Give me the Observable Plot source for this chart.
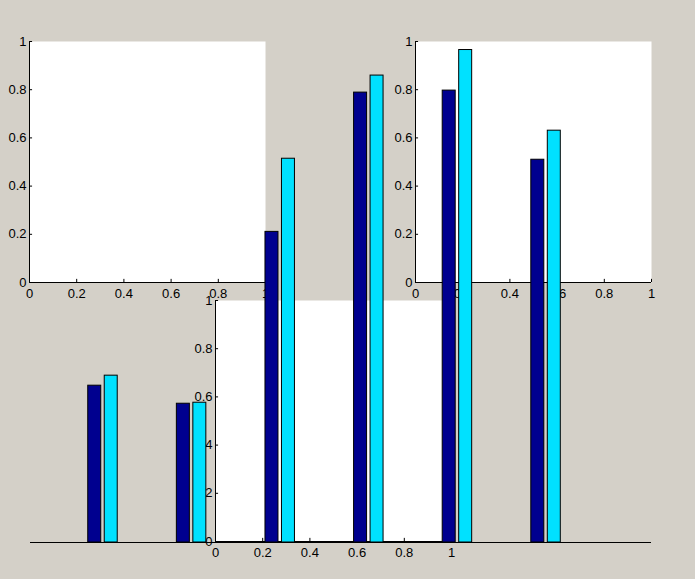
<!DOCTYPE html>
<html lang="en">
<head>
<meta charset="UTF-8">
<title>Grouped bars over empty axes</title>
<style>
  body { margin: 0; background: #d4d0c8; }
  #fig { position: relative; width: 695px; height: 579px; background: #d4d0c8; overflow: hidden; }
  #fig svg { position: absolute; left: 0; top: 0; overflow: visible; }
</style>
</head>
<body>
<div id="fig"></div>
<script src="https://cdn.jsdelivr.net/npm/d3@7"></script>
<script src="https://cdn.jsdelivr.net/npm/@observablehq/plot@0.6"></script>
<script>
  // bar data (bar axes run 0..1)
  const groups = [1, 2, 3, 4, 5, 6];
  const seriesA = [0.313, 0.277, 0.620, 0.898, 0.902, 0.764];
  const seriesB = [0.333, 0.279, 0.766, 0.932, 0.983, 0.822];
  const seriesNames = ["A", "B"];
  const seriesColors = ["#00008f", "#00e1ff"];
  // tick labels shared by the three empty axes
  const ticks = [0, 0.2, 0.4, 0.6, 0.8, 1];

  const W = 695, H = 579;
  const font = "'Liberation Sans', Arial, sans-serif";
  const fig = document.getElementById("fig");

  // one empty white axes box, placed by its margins
  function panel(left, top, right, bottom) {
    return Plot.plot({
      width: W, height: H,
      marginLeft: left, marginTop: top,
      marginRight: W - right, marginBottom: H - bottom,
      style: {background: "transparent", fontFamily: font, fontSize: "13px", color: "black", overflow: "visible"},
      x: {domain: [0, 1]},
      y: {domain: [0, 1]},
      marks: [
        Plot.frame({fill: "white", stroke: null}),
        Plot.axisX({ticks, tickFormat: d => String(d), tickSize: 0, tickPadding: 6, fill: "black"}),
        Plot.axisY({ticks, tickFormat: d => String(d), tickSize: 0, tickPadding: 3, fill: "black"}),
        Plot.ruleY(ticks, {x1: 0, x2: 0.013, stroke: "black"}),
        Plot.ruleX(ticks, {y1: 0, y2: 0.013, stroke: "black"}),
        Plot.ruleX([0], {stroke: "black"}),
        Plot.ruleY([0], {stroke: "black"})
      ]
    });
  }

  fig.append(panel(29, 41, 265, 282));
  fig.append(panel(415, 41, 651, 282));
  fig.append(panel(215, 300, 451, 541));

  const bars = [];
  groups.forEach((g, i) => {
    bars.push({group: g, series: "A", value: seriesA[i]});
    bars.push({group: g, series: "B", value: seriesB[i]});
  });
  const offset = {A: -0.093, B: 0.093};
  const half = 0.0733;

  const barPlot = Plot.plot({
    width: W, height: H,
    marginLeft: 30, marginRight: 44, marginTop: 41, marginBottom: 37,
    style: {background: "transparent", fontFamily: font, fontSize: "13px", overflow: "visible"},
    x: {domain: [0.182, 7.19], axis: null},
    y: {domain: [0, 1], axis: null},
    color: {domain: seriesNames, range: seriesColors},
    marks: [
      Plot.ruleY([0], {stroke: "black"}),
      Plot.rectY(bars, {
        x1: d => d.group + offset[d.series] - half,
        x2: d => d.group + offset[d.series] + half,
        y: "value",
        fill: "series",
        stroke: "black",
        strokeWidth: 1
      })
    ]
  });
  fig.append(barPlot);
</script>
</body>
</html>
